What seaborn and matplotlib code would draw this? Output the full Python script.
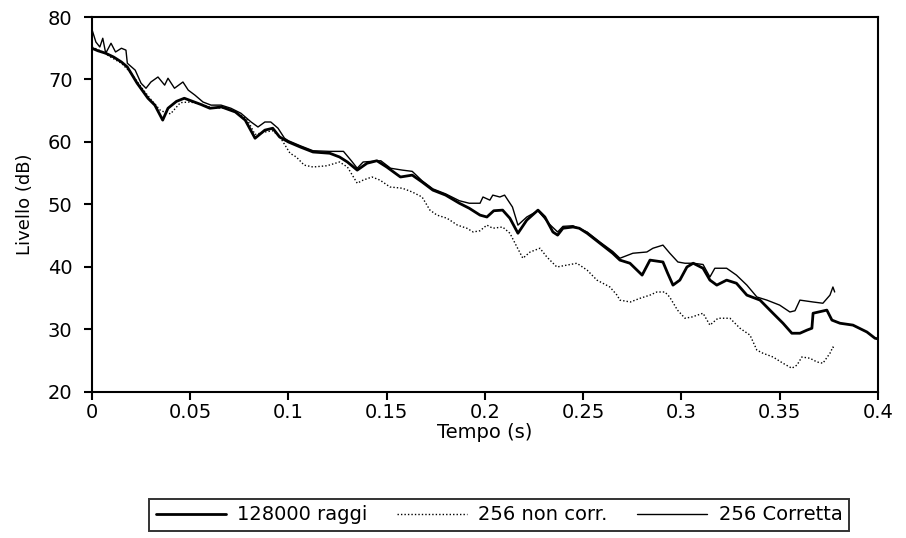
import matplotlib
matplotlib.use("Agg")
import matplotlib.pyplot as plt
import seaborn as sns

# 128000 raggi (riferimento)
t_ref = [0, 0.003, 0.007, 0.011, 0.015, 0.018, 0.023, 0.0285, 0.032, 0.036,
         0.0387, 0.043, 0.047, 0.0555, 0.06, 0.066, 0.073, 0.078, 0.083, 0.088,
         0.092, 0.0955, 0.1, 0.106, 0.1125, 0.121, 0.126, 0.13, 0.135, 0.14,
         0.145, 0.15, 0.157, 0.163, 0.168, 0.1735, 0.18, 0.187, 0.192, 0.1975,
         0.201, 0.2045, 0.209, 0.2127, 0.2168, 0.2213, 0.227, 0.2305, 0.2346, 0.237,
         0.2397, 0.2448, 0.248, 0.252, 0.2585, 0.265, 0.2687, 0.2738, 0.28, 0.284,
         0.2906, 0.293, 0.2957, 0.2992, 0.3028, 0.306, 0.311, 0.3145, 0.318, 0.323,
         0.328, 0.3333, 0.34, 0.3466, 0.3517, 0.3562, 0.3603, 0.3639, 0.3664, 0.367,
         0.374, 0.3766, 0.3807, 0.3873, 0.3944, 0.3985, 0.4]
L_ref = [75.0, 74.6, 74.2, 73.6, 72.8, 72.0, 69.4, 67.0, 65.9, 63.5,
         65.4, 66.5, 67.0, 66.0, 65.4, 65.6, 64.8, 63.5, 60.6, 61.9,
         62.2, 60.8, 60.0, 59.2, 58.4, 58.2, 57.6, 56.8, 55.5, 56.6,
         57.0, 56.0, 54.4, 54.7, 53.6, 52.3, 51.5, 50.2, 49.4, 48.3,
         48.0, 49.0, 49.1, 47.8, 45.4, 47.5, 49.1, 48.0, 45.6, 45.1,
         46.2, 46.4, 46.2, 45.4, 43.8, 42.2, 41.1, 40.6, 38.7, 41.1,
         40.8, 39.0, 37.1, 37.9, 40.0, 40.6, 39.8, 37.9, 37.1, 37.9,
         37.4, 35.5, 34.7, 32.6, 31.0, 29.4, 29.4, 29.9, 30.2, 32.6,
         33.1, 31.5, 31.0, 30.7, 29.6, 28.6, 28.5]

# 256 non corr.
t_nc = [0, 0.005, 0.01, 0.015, 0.02, 0.025, 0.03, 0.035, 0.04, 0.045,
        0.05, 0.056, 0.062, 0.068, 0.074, 0.079, 0.083, 0.088, 0.092, 0.0957,
        0.1008, 0.104, 0.108, 0.1125, 0.1196, 0.126, 0.13, 0.135, 0.138, 0.1425,
        0.1466, 0.1517, 0.158, 0.163, 0.168, 0.172, 0.1756, 0.1807, 0.186, 0.1908,
        0.194, 0.1975, 0.201, 0.204, 0.209, 0.2127, 0.2163, 0.2193, 0.223, 0.228,
        0.2315, 0.2366, 0.2417, 0.2468, 0.252, 0.257, 0.2636, 0.2672, 0.2687, 0.274,
        0.279, 0.284, 0.2875, 0.2916, 0.294, 0.298, 0.3018, 0.3053, 0.311, 0.3145,
        0.3186, 0.3247, 0.3298, 0.3349, 0.3384, 0.3415, 0.3466, 0.3517, 0.3562, 0.3588,
        0.3613, 0.3654, 0.369, 0.372, 0.3756, 0.3771, 0.378]
L_nc = [75.2, 74.5, 73.5, 72.6, 71.0, 68.8, 66.8, 65.0, 64.5, 66.3,
        66.4, 66.0, 65.4, 65.5, 64.6, 63.6, 61.2, 61.6, 61.8, 60.8,
        58.2, 57.6, 56.3, 56.0, 56.2, 56.8, 56.0, 53.4, 53.9, 54.4,
        53.9, 52.8, 52.6, 52.0, 51.2, 49.1, 48.3, 47.8, 46.7, 46.2,
        45.6, 45.8, 46.7, 46.2, 46.4, 45.4, 43.2, 41.4, 42.4, 43.0,
        41.6, 40.0, 40.3, 40.6, 39.5, 37.9, 36.8, 35.5, 34.7, 34.4,
        35.0, 35.5, 36.0, 36.0, 35.2, 33.1, 31.8, 32.0, 32.6, 30.7,
        31.8, 31.8, 30.2, 29.1, 26.7, 26.2, 25.6, 24.6, 23.8, 24.3,
        25.6, 25.4, 24.8, 24.6, 26.2, 27.2, 26.8]

# 256 Corretta
t_cor = [0, 0.002, 0.004, 0.0055, 0.007, 0.0097, 0.012, 0.015, 0.0173, 0.018,
         0.022, 0.025, 0.0275, 0.03, 0.0336, 0.037, 0.0387, 0.042, 0.0463, 0.049,
         0.0524, 0.0565, 0.0606, 0.0657, 0.0707, 0.0758, 0.081, 0.0845, 0.088, 0.091,
         0.0947, 0.098, 0.1, 0.106, 0.1125, 0.121, 0.128, 0.132, 0.135, 0.138,
         0.147, 0.152, 0.158, 0.163, 0.168, 0.1735, 0.18, 0.187, 0.192, 0.1975,
         0.199, 0.2025, 0.204, 0.2076, 0.21, 0.214, 0.2168, 0.2213, 0.227, 0.233,
         0.237, 0.2397, 0.2448, 0.252, 0.2585, 0.265, 0.2687, 0.2753, 0.2824, 0.2855,
         0.2906, 0.2941, 0.2982, 0.3018, 0.306, 0.311, 0.3145, 0.317, 0.323, 0.328,
         0.3333, 0.3384, 0.3435, 0.35, 0.3552, 0.3578, 0.3603, 0.367, 0.372, 0.3756,
         0.3771, 0.378]
L_cor = [78.0, 76.0, 75.2, 76.6, 74.2, 75.8, 74.4, 75.0, 74.7, 72.6,
         71.5, 69.4, 68.6, 69.6, 70.4, 69.1, 70.2, 68.6, 69.6, 68.3,
         67.5, 66.4, 65.9, 65.9, 65.4, 64.6, 63.2, 62.4, 63.2, 63.2,
         62.2, 60.6, 60.2, 59.4, 58.6, 58.5, 58.5, 57.0, 55.8, 56.8,
         57.0, 55.8, 55.5, 55.3, 53.8, 52.5, 51.7, 50.6, 50.2, 50.2,
         51.2, 50.7, 51.5, 51.2, 51.5, 49.6, 46.7, 48.0, 49.0, 46.8,
         45.6, 46.5, 46.6, 45.6, 44.0, 42.5, 41.4, 42.2, 42.4, 43.0,
         43.5, 42.2, 40.8, 40.6, 40.6, 40.4, 38.4, 39.8, 39.8, 38.7,
         37.1, 35.2, 34.7, 33.9, 32.8, 33.0, 34.7, 34.4, 34.2, 35.5,
         36.8, 36.0]

x_ticks = [0, 0.05, 0.1, 0.15, 0.2, 0.25, 0.3, 0.35, 0.4]
x_labels = ["0", "0.05", "0.1", "0.15", "0.2", "0.25", "0.3", "0.35", "0.4"]
y_ticks = [20, 30, 40, 50, 60, 70, 80]

sns.set_style("ticks")
plt.rcParams["font.family"] = ["DejaVu Sans"]
plt.rcParams["font.size"] = 14
plt.rcParams["text.color"] = "black"
plt.rcParams["axes.labelcolor"] = "black"
plt.rcParams["xtick.color"] = "black"
plt.rcParams["ytick.color"] = "black"

fig = plt.figure(figsize=(9.06, 5.38), dpi=100)
ax = fig.add_axes([0.1015, 0.2714, 0.8675, 0.6970])

sns.lineplot(x=t_ref, y=L_ref, ax=ax, color="black", linewidth=2.0,
             label="128000 raggi", sort=False)
sns.lineplot(x=t_nc, y=L_nc, ax=ax, color="black", linewidth=1.0,
             linestyle=(0, (1, 1.5)), label="256 non corr.", sort=False)
sns.lineplot(x=t_cor, y=L_cor, ax=ax, color="black", linewidth=1.0,
             label="256 Corretta", sort=False)

ax.set_xlim(0, 0.4)
ax.set_ylim(20, 80)
ax.set_xticks(x_ticks)
ax.set_xticklabels(x_labels)
ax.set_yticks(y_ticks)
ax.set_xlabel("Tempo (s)", labelpad=1, fontsize=14)
ax.set_ylabel("Livello (dB)", labelpad=10, fontsize=13)
ax.tick_params(direction="out", length=6, width=1.5, color="black",
               labelcolor="black", labelsize=14)
ax.tick_params(axis="y", pad=8)
ax.tick_params(axis="x", pad=2)
for s in ax.spines.values():
    s.set_linewidth(1.5)
    s.set_color("black")

handles, labels = ax.get_legend_handles_labels()
ax.get_legend().remove()
leg = fig.legend(handles, labels, loc="center", bbox_to_anchor=(499 / 906, 1 - 515 / 538),
                 ncol=3, frameon=True, fancybox=False, edgecolor="black",
                 handlelength=3.6, handletextpad=0.6, columnspacing=1.5,
                 borderpad=0.35, fontsize=14)
leg.get_frame().set_linewidth(1.4)

fig.savefig("out.png", dpi=100, facecolor="white")
